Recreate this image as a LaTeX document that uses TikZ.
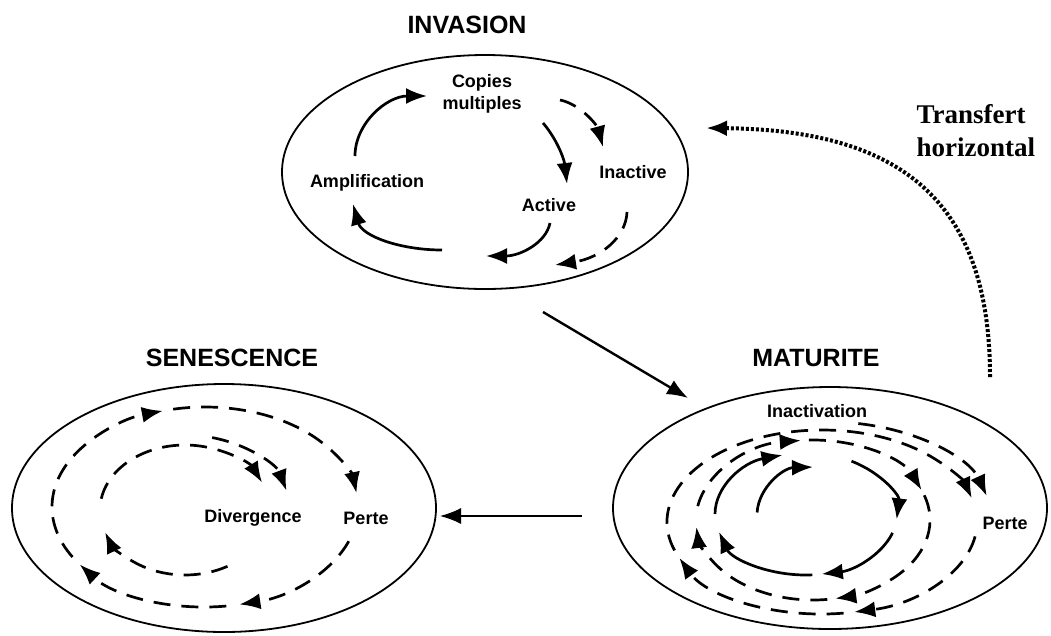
\documentclass[tikz,border=0pt]{standalone}
\usepackage{fontspec}
\setmainfont{Liberation Sans}
\newfontfamily\transferfont{Liberation Serif}
\usetikzlibrary{arrows.meta,shapes.geometric}

\begin{document}
\begin{tikzpicture}[x=1pt, y=-1pt, >={Latex[length=21pt,width=16pt]}]
  \tikzstyle{phase} = [draw, ellipse, line width=1.8pt, inner sep=0pt]
  \tikzstyle{phaseTitle} = [font={\fontsize{25}{30}\selectfont\bfseries}]
  \tikzstyle{stepLabel} = [font={\fontsize{18}{22}\selectfont\bfseries}, align=center, inner sep=1pt]
  \tikzstyle{cycleArc} = [line width=2.7pt, ->]
  \tikzstyle{cycleDash} = [cycleArc, dash pattern=on 17pt off 11pt]
  \tikzstyle{phaseEdge} = [line width=2.4pt, ->]
  \tikzstyle{transferEdge} = [line width=4pt, dash pattern=on 3pt off 2pt, ->]

  \useasboundingbox (0,0) rectangle (1051,635);

  % the three phases
  \node[phase, minimum width=406, minimum height=234] (inv) at (485,172) {};
  \node[phase, minimum width=434, minimum height=242] (mat) at (830,508) {};
  \node[phase, minimum width=424, minimum height=248] (sen) at (224,508) {};

  \node[phaseTitle] (invTitle) at (467,25) {INVASION};
  \node[phaseTitle] (matTitle) at (816,358) {MATURITE};
  \node[phaseTitle] (senTitle) at (232,358) {SENESCENCE};

  % labels
  \node[stepLabel] (copies)   at (482,94)  {Copies\\multiples};
  \node[stepLabel] (inactive) at (633,172) {Inactive};
  \node[stepLabel] (ampli)    at (367,183) {Amplification};
  \node[stepLabel] (active)   at (549,205) {Active};
  \node[stepLabel] (inactiv)  at (817,411) {Inactivation};
  \node[stepLabel] (matPerte) at (1005,523) {Perte};
  \node[stepLabel] (diverg)   at (253,518) {Divergence};
  \node[stepLabel] (senPerte) at (366,518) {Perte};
  \node[font={\transferfont\fontsize{27}{33}\selectfont\bfseries}, align=left, anchor=west] (trLabel) at (913,131) {Transfert\\horizontal};

  % invasion cycle
  \draw[cycleArc] (355,156) .. controls (355,123) and (387,96) .. (427,96);
  \draw[cycleArc] (543,123) .. controls (556,138) and (564,158) .. (567,184);
  \draw[cycleArc] (550,223) .. controls (546,243) and (520,256) .. (486,256);
  \draw[cycleArc] (442,250) .. controls (400,250) and (362,236) .. (353,204);
  \draw[cycleDash] (560,100) .. controls (580,104) and (597,125) .. (603,147);
  \draw[cycleDash] (627,212) .. controls (626,238) and (600,258) .. (555,265);

  % maturite cycles
  \coordinate (matS) at (806,514);
  \coordinate (matI) at (815,515);
  \coordinate (matA) at (813,520);
  \coordinate (matB) at (822,522);
  \coordinate (matC) at (830,524);
  \draw[cycleArc] (matI) ++(183:58 and 48) arc[start angle=183, end angle=268, x radius=58, y radius=48];
  \draw[cycleArc] (matS) ++(180:91 and 61) arc[start angle=180, end angle=255, x radius=91, y radius=61];
  \draw[cycleArc] (matS) ++(300:91 and 61) arc[start angle=300, end angle=365, x radius=91, y radius=61];
  \draw[cycleArc] (matS) ++(18:91 and 61) arc[start angle=18, end angle=80, x radius=91, y radius=61];
  \draw[cycleArc] (matS) ++(86:91 and 61) arc[start angle=86, end angle=163, x radius=91, y radius=61];
  \draw[cycleDash] (matA) ++(190:117 and 80) arc[start angle=190, end angle=264, x radius=117, y radius=80];
  \draw[cycleDash] (matA) ++(268:117 and 80) arc[start angle=268, end angle=338, x radius=117, y radius=80];
  \draw[cycleDash] (matA) ++(342:117 and 80) arc[start angle=342, end angle=439, x radius=117, y radius=80];
  \draw[cycleDash] (matA) ++(443:117 and 80) arc[start angle=443, end angle=535, x radius=117, y radius=80];
  \draw[cycleDash] (matB) ++(162:155 and 92) arc[start angle=162, end angle=345, x radius=155, y radius=92];
  \draw[cycleDash] (matB) ++(9:155 and 92) arc[start angle=9, end angle=78, x radius=155, y radius=92];
  \draw[cycleDash] (matB) ++(442:155 and 92) arc[start angle=442, end angle=517, x radius=155, y radius=92];
  \draw[cycleDash] (matC) ++(280:163 and 102) arc[start angle=280, end angle=344, x radius=163, y radius=102];

  % senescence cycles
  \coordinate (senA) at (205,507);
  \coordinate (senB) at (185,510);
  \draw[cycleDash] (senA) ++(20:153 and 100) arc[start angle=20, end angle=77, x radius=153, y radius=100];
  \draw[cycleDash] (senA) ++(82:153 and 100) arc[start angle=82, end angle=145, x radius=153, y radius=100];
  \draw[cycleDash] (senA) ++(150:153 and 100) arc[start angle=150, end angle=254, x radius=153, y radius=100];
  \draw[cycleDash] (senA) ++(258:153 and 100) arc[start angle=258, end angle=352, x radius=153, y radius=100];
  \draw[cycleDash] (senB) ++(190:85 and 65) arc[start angle=190, end angle=335, x radius=85, y radius=65];
  \draw[cycleDash] (senB) ++(60:85 and 65) arc[start angle=60, end angle=160, x radius=85, y radius=65];
  \draw[cycleDash] (senB) ++(285:105 and 75) arc[start angle=285, end angle=345, x radius=105, y radius=75];

  % links between phases
  \coordinate (invOut) at (543,312);
  \coordinate (matIn) at (688,398);
  \coordinate (matOut) at (582,516);
  \coordinate (senIn) at (440,516);
  \coordinate (trStart) at (990,377);
  \coordinate (trEnd) at (706,128);
  \draw[phaseEdge] (invOut) -- (matIn);
  \draw[phaseEdge, line width=1.4pt] (matOut) -- (senIn);
  \draw[transferEdge] (trStart) .. controls (990,200) and (900,130) .. (trEnd);
\end{tikzpicture}
\end{document}
